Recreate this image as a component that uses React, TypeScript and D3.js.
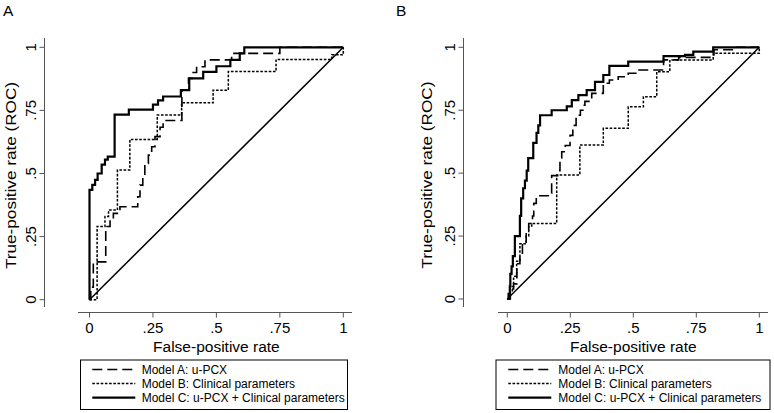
import React from "react";
import * as d3 from "d3";

// ---------- data ----------
const tickValues = [0, 0.25, 0.5, 0.75, 1];
const tickLabels = ["0", ".25", ".5", ".75", "1"];
const legendLabels = [
  "Model A: u-PCX",
  "Model B: Clinical parameters",
  "Model C: u-PCX + Clinical parameters",
];
const panelLabels = ["A", "B"];
const xTitle = "False-positive rate";
const yTitle = "True-positive rate (ROC)";

// Panel A curves: [false-positive rate, true-positive rate]
const modelA_A: [number, number][] = [
  [0, 0], [0.005, 0.05], [0.015, 0.05], [0.015, 0.15], [0.064, 0.15], [0.064, 0.29],
  [0.081, 0.316], [0.094, 0.342], [0.12, 0.368], [0.19, 0.368], [0.19, 0.408],
  [0.199, 0.454], [0.21, 0.487], [0.218, 0.54], [0.232, 0.573], [0.245, 0.606],
  [0.258, 0.646], [0.278, 0.683], [0.29, 0.71], [0.364, 0.71], [0.364, 0.83],
  [0.39, 0.877], [0.405, 0.9], [0.422, 0.923], [0.455, 0.95], [0.56, 0.976],
  [0.75, 1], [1, 1],
];
const modelB_A: [number, number][] = [
  [0, 0], [0.03, 0.04], [0.03, 0.29], [0.061, 0.33], [0.075, 0.355], [0.11, 0.514],
  [0.159, 0.635], [0.267, 0.732], [0.363, 0.78], [0.487, 0.83], [0.547, 0.904],
  [0.735, 0.952], [0.955, 0.97], [1, 1],
];
const modelC_A: [number, number][] = [
  [0, 0], [0, 0.435], [0.011, 0.455], [0.022, 0.475], [0.032, 0.5], [0.048, 0.535],
  [0.061, 0.555], [0.072, 0.567], [0.099, 0.733], [0.155, 0.753], [0.25, 0.773],
  [0.27, 0.79], [0.29, 0.805], [0.36, 0.83], [0.393, 0.877], [0.448, 0.903],
  [0.5, 0.925], [0.555, 0.95], [0.592, 0.976], [0.61, 1], [1, 1],
];

// Panel B curves
const modelA_B: [number, number][] = [
  [0, 0], [0.012, 0.04], [0.025, 0.06], [0.038, 0.14], [0.05, 0.17], [0.06, 0.22],
  [0.075, 0.27], [0.085, 0.3], [0.1, 0.33], [0.105, 0.38], [0.115, 0.41], [0.17, 0.42],
  [0.176, 0.49], [0.2, 0.51], [0.209, 0.56], [0.216, 0.585], [0.23, 0.61], [0.249, 0.65],
  [0.26, 0.69], [0.273, 0.73], [0.29, 0.75], [0.3, 0.77], [0.308, 0.785], [0.335, 0.817],
  [0.38, 0.82], [0.381, 0.857], [0.405, 0.87], [0.44, 0.883], [0.48, 0.897], [0.51, 0.91],
  [0.62, 0.91], [0.62, 0.95], [0.68, 0.96], [0.82, 0.975], [0.82, 0.99], [0.9, 0.99],
  [0.9, 1], [1, 1],
];
const modelB_B: [number, number][] = [
  [0, 0], [0.01, 0.03], [0.02, 0.05], [0.025, 0.09], [0.037, 0.15], [0.05, 0.15],
  [0.05, 0.22], [0.07, 0.22], [0.075, 0.25], [0.085, 0.29], [0.097, 0.3], [0.196, 0.3],
  [0.196, 0.493], [0.288, 0.493], [0.288, 0.612], [0.381, 0.612], [0.381, 0.678],
  [0.48, 0.678], [0.48, 0.764], [0.54, 0.764], [0.54, 0.804], [0.593, 0.804],
  [0.593, 0.903], [0.645, 0.903], [0.645, 0.95], [0.817, 0.95], [0.817, 0.976],
  [0.923, 0.976], [1, 1],
];
const modelC_B: [number, number][] = [
  [0, 0], [0.005, 0.02], [0.01, 0.05], [0.012, 0.1], [0.017, 0.13], [0.022, 0.17],
  [0.03, 0.25], [0.05, 0.25], [0.05, 0.33], [0.055, 0.4], [0.063, 0.44], [0.07, 0.47],
  [0.077, 0.51], [0.083, 0.56], [0.097, 0.56], [0.103, 0.62], [0.116, 0.66],
  [0.123, 0.69], [0.13, 0.73], [0.176, 0.73], [0.176, 0.75], [0.229, 0.75],
  [0.236, 0.765], [0.256, 0.79], [0.282, 0.81], [0.315, 0.83], [0.348, 0.863],
  [0.381, 0.89], [0.405, 0.926], [0.474, 0.926], [0.48, 0.943], [0.62, 0.943],
  [0.62, 0.965], [0.705, 0.97], [0.738, 0.983], [0.817, 0.983], [0.817, 1], [1, 1],
];

const seriesStyles = [
  { dash: "10,5", width: 1.6 },
  { dash: "2.6,1.6", width: 1.5 },
  { dash: "", width: 2.2 },
];

const FONT = "'Liberation Sans', Arial, Helvetica, sans-serif";
const AXIS = "#555";

type Geo = {
  label: string; lx: number;
  x0: number; x1: number; y0: number; y1: number;
  axisX: number; axisY: number; xa: [number, number]; ya: [number, number];
  ytickX: number; ytitleX: number;
  legend: { x: number; w: number; lineX: number; textX: number };
  curves: [number, number][][];
};

function Panel({ g }: { g: Geo }) {
  const xs = d3.scaleLinear().domain([0, 1]).range([g.x0, g.x1]);
  const ys = d3.scaleLinear().domain([0, 1]).range([g.y0, g.y1]);
  const line = d3
    .line<[number, number]>()
    .x((d) => xs(d[0]))
    .y((d) => ys(d[1]))
    .curve(d3.curveStepAfter);
  const diag = d3.line<[number, number]>().x((d) => xs(d[0])).y((d) => ys(d[1]));
  const rowY = [369.5, 383.5, 397.7];
  return (
    <g>
      <text x={g.lx} y={16} fontFamily={FONT} fontSize={15.5} fill="#000">{g.label}</text>
      {/* y axis */}
      <line x1={g.axisX} x2={g.axisX} y1={g.ya[0]} y2={g.ya[1]} stroke={AXIS} strokeWidth={1} />
      {tickValues.map((t, i) => (
        <g key={"y" + i}>
          <line x1={g.axisX - 5} x2={g.axisX} y1={ys(t)} y2={ys(t)} stroke={AXIS} strokeWidth={1} />
          <text
            transform={`translate(${g.ytickX},${ys(t)}) rotate(-90)`}
            textAnchor="middle" fontFamily={FONT} fontSize={15} fill="#000"
          >{tickLabels[i]}</text>
        </g>
      ))}
      <text
        transform={`translate(${g.ytitleX},${(ys(0) + ys(1)) / 2 + 2}) rotate(-90)`}
        textAnchor="middle" fontFamily={FONT} fontSize={15.5} fill="#000"
        textLength={187} lengthAdjust="spacingAndGlyphs"
      >{yTitle}</text>
      {/* x axis */}
      <line x1={g.xa[0]} x2={g.xa[1]} y1={g.axisY} y2={g.axisY} stroke={AXIS} strokeWidth={1} />
      {tickValues.map((t, i) => (
        <g key={"x" + i}>
          <line x1={xs(t)} x2={xs(t)} y1={g.axisY} y2={g.axisY + 5} stroke={AXIS} strokeWidth={1} />
          <text x={xs(t)} y={333} textAnchor="middle" fontFamily={FONT} fontSize={15} fill="#000">
            {tickLabels[i]}
          </text>
        </g>
      ))}
      <text x={(xs(0) + xs(1)) / 2} y={352} textAnchor="middle" fontFamily={FONT} fontSize={15.5} fill="#000">
        {xTitle}
      </text>
      {/* reference line */}
      <path d={diag([[0, 0], [1, 1]]) || ""} fill="none" stroke="#000" strokeWidth={1.5} />
      {/* curves */}
      {g.curves.map((c, i) => (
        <path
          key={"c" + i}
          d={line(c) || ""}
          fill="none"
          stroke="#000"
          strokeWidth={seriesStyles[i].width}
          strokeDasharray={seriesStyles[i].dash || undefined}
        />
      ))}
      {/* legend */}
      <rect x={g.legend.x} y={360} width={g.legend.w} height={49.5} fill="#fff" stroke="#000" strokeWidth={1} />
      {legendLabels.map((lab, i) => (
        <g key={"l" + i}>
          <line
            x1={g.legend.lineX} x2={g.legend.lineX + 43} y1={rowY[i]} y2={rowY[i]}
            stroke="#000" strokeWidth={seriesStyles[i].width}
            strokeDasharray={seriesStyles[i].dash || undefined}
          />
          <text x={g.legend.textX} y={rowY[i] + 4.2} fontFamily={FONT} fontSize={12} fill="#000">{lab}</text>
        </g>
      ))}
    </g>
  );
}

export default function App() {
  const panels: Geo[] = [
    {
      label: panelLabels[0], lx: 3,
      x0: 89.5, x1: 343.3, y0: 299.7, y1: 47.3,
      axisX: 44.5, axisY: 312.5, xa: [78, 352], ya: [38, 307],
      ytickX: 36, ytitleX: 15.5,
      legend: { x: 80.5, w: 267, lineX: 92.3, textX: 141.7 },
      curves: [modelA_A, modelB_A, modelC_A],
    },
    {
      label: panelLabels[1], lx: 396,
      x0: 507.3, x1: 759.3, y0: 299, y1: 47.3,
      axisX: 463.5, axisY: 312.5, xa: [498, 768], ya: [38, 307],
      ytickX: 455, ytitleX: 432,
      legend: { x: 496, w: 274, lineX: 508.3, textX: 558.3 },
      curves: [modelA_B, modelB_B, modelC_B],
    },
  ];
  return (
    <svg width={774} height={413} style={{ position: "absolute", left: 0, top: 0, background: "#fff" }}>
      <rect x={0} y={0} width={774} height={413} fill="#fff" />
      {panels.map((p, i) => (
        <Panel key={i} g={p} />
      ))}
    </svg>
  );
}
